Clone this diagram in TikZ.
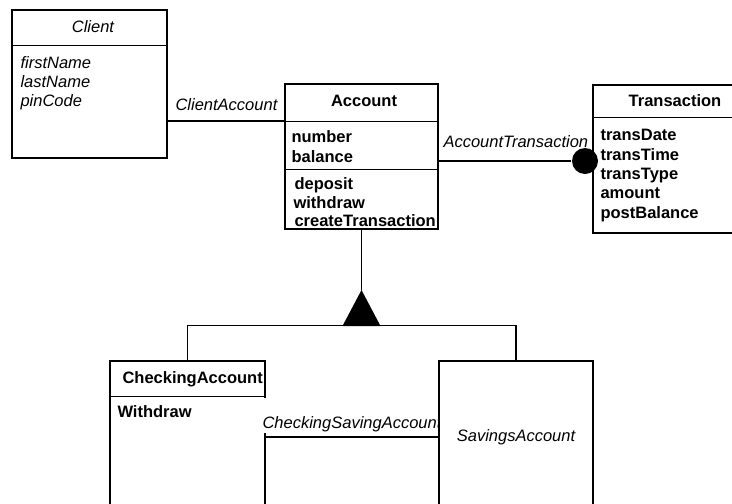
\documentclass[tikz,border=0pt]{standalone}
\usepackage{fontspec}
\setmainfont{Liberation Sans}
\newcommand{\umlfont}{\fontsize{16.5}{19.5}\selectfont}

\begin{document}
\begin{tikzpicture}[x=1pt, y=-1pt, line width=1.1pt,
  cls/.style={draw, fill=white, inner sep=0pt},
  ital/.style={inner sep=0pt, font=\umlfont\itshape},
  bold/.style={inner sep=0pt, font=\umlfont\bfseries},
  row/.style={anchor=base west},
  assoc/.style={fill=white, anchor=base west}]

  \useasboundingbox (0,0) rectangle (732,504);
  \clip (0,0) rectangle (732,504);

  % class boxes
  \node[cls, minimum width=155pt, minimum height=148pt] (client) at (89.5,84) {};
  \node[cls, minimum width=153pt, minimum height=145pt] (account) at (361.5,156.5) {};
  \node[cls, minimum width=164pt, minimum height=148pt] (trans) at (675,159) {};
  \node[cls, minimum width=155pt, minimum height=152pt] (checking) at (187.5,437) {};

  % compartments
  \draw ([yshift=-36pt]client.north west) -- ([yshift=-36pt]client.north east);
  \draw ([yshift=-38pt]account.north west) -- ([yshift=-38pt]account.north east);
  \draw ([yshift=-86pt]account.north west) -- ([yshift=-86pt]account.north east);
  \draw ([yshift=-33pt]trans.north west) -- ([yshift=-33pt]trans.north east);
  \draw ([yshift=-36pt]checking.north west) -- ([yshift=-36pt]checking.north east);

  % Client
  \node[ital, anchor=base] (cname) at (93,32) {Client};
  \node[ital, row] (c1) at (20,68) {firstName};
  \node[ital, row] (c2) at (20,87) {lastName};
  \node[ital, row] (c3) at (20,106) {pinCode};

  % Account
  \node[bold, anchor=base] (aname) at (364,106) {Account};
  \node[bold, row] (a1) at (291,142) {number};
  \node[bold, row] (a2) at (291,162) {balance};
  \node[bold, row] (a3) at (294,189) {deposit};
  \node[bold, row] (a4) at (293,208) {withdraw};
  \node[bold, row] (a5) at (294,226) {createTransaction};

  % Transaction
  \node[bold, anchor=base] (tname) at (675,106) {Transaction};
  \node[bold, row] (t1) at (600,140) {transDate};
  \node[bold, row] (t2) at (600,160) {transTime};
  \node[bold, row] (t3) at (600,179) {transType};
  \node[bold, row] (t4) at (600,198) {amount};
  \node[bold, row] (t5) at (600,218) {postBalance};

  % CheckingAccount
  \node[bold, row] (kname) at (122,383) {CheckingAccount};
  \node[bold, row] (k1) at (117,417) {Withdraw};

  % association Client -- Account
  \draw (account.north west) ++(0,37.5) coordinate (ca) -- (ca -| client.east);
  \node[ital, row] (calbl) at (175,110) {ClientAccount};

  % association Account -- Transaction
  \node[circle, fill=black, minimum size=26pt, inner sep=0pt] (dot) at (585,161) {};
  \draw (account.east |- dot) -- (dot);
  \node[ital, row] (atlbl) at (443,147) {AccountTransaction};

  % association Checking -- Savings
  \node[ital, assoc, text height=30pt, text depth=5pt] (cslbl) at (262,428) {CheckingSavingAccount};
  \node[cls, ital, minimum width=154pt, minimum height=152pt] (savings) at (516,437) {SavingsAccount};
  \draw (savings.west) -- (savings.west -| checking.east);

  % generalization
  \coordinate (gen) at (361.5,290);
  \draw (account.south) -- (gen);
  \fill (gen) -- ++(19,36) -- ++(-38,0) -- cycle;
  \draw (checking.north) -- ++(0,-35) -| (savings.north);
\end{tikzpicture}
\end{document}
